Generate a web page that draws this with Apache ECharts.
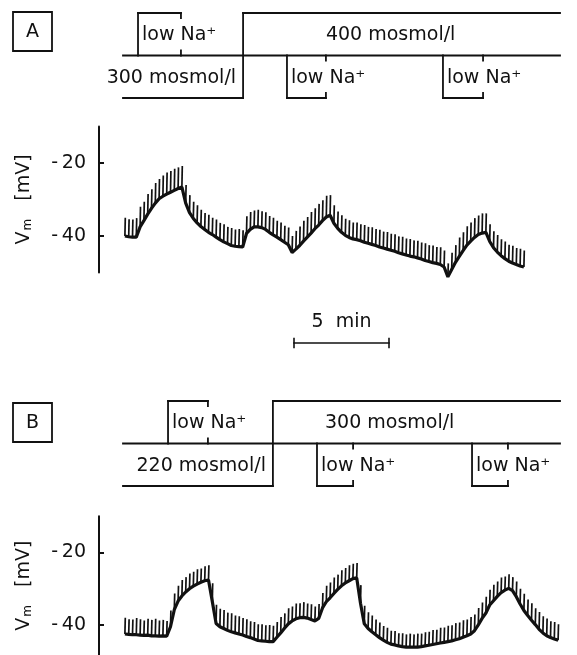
<!DOCTYPE html>
<html>
<head>
<meta charset="utf-8">
<script src="https://cdn.jsdelivr.net/npm/echarts@6/dist/echarts.min.js"></script>
<style>
  html, body { margin: 0; padding: 0; background: #fff; }
  #chart { width: 577px; height: 655px; }
</style>
</head>
<body>
<div id="chart"></div>
<script>
// Membrane potential under osmotic steps and low-Na+ pulses.
// Time in minutes from the start of each recording; test pulses every 12 s.
const STIM_START = 0.1;
const STIM_STEP = 0.2;
const T_END = 23;

// Panel A: resting level and pulse tip of V_m (mV) at each test pulse
const baseA = [
  -40.0, -40.2, -40.3, -40.3, -37.5, -35.8, -34.0, -32.4, -31.0, -29.8,
  -29.1, -28.5, -28.0, -27.5, -27.0, -26.6, -31.0, -33.6, -35.2, -36.4,
  -37.4, -38.2, -39.0, -39.6, -40.3, -41.0, -41.6, -42.1, -42.6, -42.8,
  -42.9, -43.0, -39.3, -38.2, -37.5, -37.5, -37.7, -38.2, -39.0, -39.7,
  -40.3, -41.0, -41.7, -42.4, -44.5, -43.6, -42.6, -41.4, -40.3, -39.2,
  -38.0, -37.0, -35.8, -34.8, -34.3, -36.5, -37.9, -39.0, -39.8, -40.4,
  -40.8, -41.0, -41.3, -41.7, -42.0, -42.3, -42.6, -43.0, -43.3, -43.6,
  -43.9, -44.2, -44.6, -44.9, -45.2, -45.5, -45.7, -46.0, -46.3, -46.7,
  -47.0, -47.3, -47.5, -47.8, -48.5, -51.2, -49.2, -47.2, -45.6, -44.0,
  -42.5, -41.4, -40.4, -39.6, -39.2, -39.0, -41.5, -43.2, -44.4, -45.4,
  -46.2, -46.9, -47.4, -47.8, -48.2, -48.5
];
const peakA = [
  -35.0, -35.4, -35.5, -35.1, -32.0, -30.6, -28.5, -27.2, -25.5, -24.4,
  -23.4, -22.6, -22.2, -21.6, -21.2, -20.8, -26.0, -28.8, -30.6, -31.6,
  -32.8, -33.7, -34.2, -35.0, -35.5, -36.4, -36.8, -37.5, -37.8, -38.2,
  -38.1, -38.4, -34.6, -33.4, -33.0, -32.8, -33.2, -33.5, -34.5, -35.0,
  -35.8, -36.3, -37.2, -37.7, -40.0, -38.6, -37.4, -35.8, -34.8, -33.4,
  -32.4, -31.2, -30.2, -29.0, -28.8, -31.6, -33.3, -34.3, -35.3, -35.7,
  -36.3, -36.3, -36.8, -37.0, -37.5, -37.6, -38.1, -38.3, -38.8, -38.9,
  -39.4, -39.5, -40.1, -40.2, -40.7, -40.8, -41.2, -41.3, -41.8, -42.0,
  -42.5, -42.6, -43.0, -43.1, -44.0, -47.5, -44.6, -42.5, -40.4, -39.0,
  -37.3, -36.3, -35.1, -34.4, -33.8, -33.8, -36.8, -38.7, -39.7, -40.9,
  -41.5, -42.4, -42.7, -43.3, -43.5, -44.0
];

// Panel B: resting level and pulse tip of V_m (mV) at each test pulse
const baseB = [
  -42.5, -42.6, -42.7, -42.7, -42.8, -42.9, -42.8, -43.0, -43.0, -43.1,
  -43.0, -43.1, -40.5, -35.8, -33.4, -32.0, -30.9, -30.0, -29.3, -28.7,
  -28.2, -27.8, -27.6, -33.5, -39.6, -40.5, -41.0, -41.5, -41.9, -42.2,
  -42.5, -42.8, -43.2, -43.5, -43.9, -44.3, -44.4, -44.5, -44.6, -44.6,
  -43.4, -42.2, -40.9, -39.7, -38.9, -38.3, -38.0, -37.9, -38.1, -38.5,
  -38.9, -38.2, -35.3, -33.6, -32.5, -31.3, -30.2, -29.2, -28.4, -27.8,
  -27.2, -27.0, -34.0, -39.7, -41.0, -41.9, -42.7, -43.5, -44.2, -44.8,
  -45.3, -45.5, -45.8, -46.0, -46.1, -46.1, -46.1, -46.1, -46.0, -45.8,
  -45.6, -45.4, -45.2, -45.0, -44.8, -44.6, -44.4, -44.1, -43.8, -43.4,
  -43.0, -42.5, -41.6, -40.0, -38.2, -36.7, -34.5, -33.3, -32.1, -31.1,
  -30.4, -29.9, -30.5, -32.2, -34.2, -36.0, -37.4, -38.7, -39.9, -41.2,
  -42.2, -43.0, -43.5, -43.9, -44.2
];
const peakB = [
  -38.0, -38.4, -38.5, -38.1, -38.4, -38.8, -38.3, -38.6, -38.3, -38.8,
  -38.6, -38.9, -36.0, -31.3, -29.2, -27.6, -26.8, -25.8, -25.3, -24.6,
  -24.4, -23.8, -23.5, -28.5, -34.4, -35.5, -35.9, -36.6, -36.8, -37.4,
  -37.6, -38.1, -38.4, -39.0, -39.2, -39.8, -39.8, -40.1, -40.0, -40.2,
  -39.2, -37.8, -36.8, -35.4, -34.9, -34.1, -34.0, -33.7, -34.1, -34.3,
  -34.9, -34.2, -31.2, -29.2, -28.3, -26.9, -26.1, -24.9, -24.3, -23.5,
  -23.1, -22.9, -29.0, -34.7, -36.5, -37.4, -38.5, -39.3, -40.3, -40.8,
  -41.6, -41.7, -42.3, -42.3, -42.6, -42.4, -42.6, -42.4, -42.4, -42.0,
  -41.9, -41.4, -41.3, -40.8, -40.7, -40.2, -40.1, -39.5, -39.3, -38.7,
  -38.5, -37.8, -37.1, -35.3, -33.8, -32.2, -30.3, -28.9, -28.0, -26.9,
  -26.6, -26.0, -26.8, -28.0, -30.0, -31.4, -33.0, -34.0, -35.4, -36.4,
  -37.6, -38.2, -39.0, -39.2, -39.8
];

// Solution protocol (minutes): osmolarity step and low-Na+ pulses
const osmoSwitchA = 6.32;
const osmoSwitchB = 7.89;
const lowNaA = [[0.79, 3.05, 'up'], [8.63, 10.68, 'down'], [16.84, 18.95, 'down']];
const lowNaB = [[2.37, 4.47, 'up'], [10.21, 12.11, 'down'], [18.37, 20.26, 'down']];
const osmoTextA = ['300 mosmol/l', '400 mosmol/l'];
const osmoTextB = ['220 mosmol/l', '300 mosmol/l'];
const lowNaText = 'low Na\u207A';

// Time calibration bar (minutes) and voltage ticks (mV)
const scaleBar = [9, 14];
const scaleBarText = '5  min';
const vTicks = [-40, -20];
const vRangeA = [-50, -10];
const vRangeB = [-48.3, -10];   // lower part of panel B runs off the page

const INK = '#111';
const FONT = 'DejaVu Sans';
const FS = 19;
const PLOT_LEFT = 123;
const PLOT_WIDTH = 437;
const TICK = 0.12; // end-of-pulse mark length, in protocol level units

function protocolSegments(sw, pulses) {
  const segs = [
    [0, 1, T_END, 1],
    [0, 0, sw, 0],
    [sw, 0, sw, 2],
    [sw, 2, T_END, 2]
  ];
  pulses.forEach(([a, b, dir]) => {
    const lv = dir === 'up' ? 2 : 0;
    const d = dir === 'up' ? -TICK : TICK;
    segs.push([a, 1, a, lv]);
    segs.push([a, lv, b, lv]);
    segs.push([b, lv, b, lv + d]);
    segs.push([b, 1, b, 1 - d]);
  });
  return segs;
}

function segmentSeries(idx, segs, width) {
  return {
    type: 'custom',
    xAxisIndex: idx, yAxisIndex: idx,
    clip: false,
    silent: true,
    encode: { x: [0, 2], y: [1, 3] },
    data: segs,
    renderItem(params, api) {
      const p0 = api.coord([api.value(0), api.value(1)]);
      const p1 = api.coord([api.value(2), api.value(3)]);
      return {
        type: 'line',
        shape: { x1: p0[0], y1: p0[1], x2: p1[0], y2: p1[1] },
        style: { stroke: INK, lineWidth: width, lineCap: 'square' }
      };
    }
  };
}

function textStyle(extra) {
  return Object.assign({ show: true, color: INK, fontFamily: FONT, fontSize: FS }, extra);
}

function protocolLabels(idx, sw, pulses, osmo, newOsmoStart) {
  const data = [];
  data.push({ value: [sw, 0.5], label: textStyle({ formatter: osmo[0], position: 'left', distance: 7, offset: [0, 1] }) });
  data.push({ value: [newOsmoStart, 1.5], label: textStyle({ formatter: osmo[1], position: 'right', distance: 0, offset: [0, 1] }) });
  pulses.forEach(([a, b, dir]) => {
    data.push({
      value: [a, dir === 'up' ? 1.5 : 0.5],
      label: textStyle({ formatter: lowNaText, position: 'right', distance: 4, offset: [0, 1] })
    });
  });
  return {
    type: 'scatter', xAxisIndex: idx, yAxisIndex: idx,
    symbolSize: 0, silent: true,
    itemStyle: { opacity: 1 },
    data
  };
}

function traceSeries(idx, base, peak) {
  const spikes = base.map((b, i) => [STIM_START + STIM_STEP * i, b, peak[i]]);
  return [
    {
      type: 'custom',
      xAxisIndex: idx, yAxisIndex: idx,
      clip: false, silent: true,
      encode: { x: 0, y: [1, 2] },
      data: spikes,
      renderItem(params, api) {
        const p0 = api.coord([api.value(0), api.value(1)]);
        const p1 = api.coord([api.value(0), api.value(2)]);
        return {
          type: 'line',
          shape: { x1: p0[0], y1: p0[1], x2: p1[0] + 0.4, y2: p1[1] },
          style: { stroke: INK, lineWidth: 1.7 }
        };
      }
    },
    {
      type: 'line',
      xAxisIndex: idx, yAxisIndex: idx,
      clip: false, silent: true,
      symbol: 'none',
      lineStyle: { color: INK, width: 3.2 },
      data: spikes.map(s => [s[0], s[1]])
    }
  ];
}

function voltageAxis(gridIdx, range) {
  return {
    gridIndex: gridIdx,
    type: 'value',
    min: range[0], max: range[1],
    offset: 24,
    axisLine: { show: true, onZero: false, lineStyle: { color: INK, width: 2 } },
    axisTick: { show: true, inside: true, length: 5, customValues: vTicks, lineStyle: { color: INK, width: 2 } },
    axisLabel: {
      show: true, customValues: vTicks, margin: 13,
      color: INK, fontFamily: FONT, fontSize: FS,
      formatter: v => '-\u2009' + Math.abs(v)
    },
    splitLine: { show: false },
    name: '{v|V}{s|m}{v|   [mV]}',
    nameLocation: 'middle',
    nameRotate: 90,
    nameGap: 65,
    nameTextStyle: {
      rich: {
        v: { fontFamily: FONT, fontSize: FS, color: INK, lineHeight: 19, verticalAlign: 'top' },
        s: { fontFamily: FONT, fontSize: 12, color: INK, lineHeight: 12, verticalAlign: 'bottom', padding: [12, 0, 0, 1] }
      }
    }
  };
}

const grids = [
  { left: PLOT_LEFT, width: PLOT_WIDTH, top: 13, height: 85 },      // protocol A
  { left: PLOT_LEFT, width: PLOT_WIDTH, top: 126.5, height: 146 },  // trace A
  { left: PLOT_LEFT, width: PLOT_WIDTH, top: 339, height: 8 },      // time bar
  { left: PLOT_LEFT, width: PLOT_WIDTH, top: 401, height: 85 },     // protocol B
  { left: PLOT_LEFT, width: PLOT_WIDTH, top: 516.3, height: 138.7 } // trace B
];
const xAxes = grids.map((g, i) => ({ gridIndex: i, type: 'value', min: 0, max: T_END, show: false }));
const yAxes = [
  { gridIndex: 0, type: 'value', min: 0, max: 2, show: false },
  voltageAxis(1, vRangeA),
  { gridIndex: 2, type: 'value', min: -1, max: 1, show: false },
  { gridIndex: 3, type: 'value', min: 0, max: 2, show: false },
  voltageAxis(4, vRangeB)
];

const barSegs = [
  [scaleBar[0], 0, scaleBar[1], 0],
  [scaleBar[0], -1.1, scaleBar[0], 1.1],
  [scaleBar[1], -1.1, scaleBar[1], 1.1]
];

const series = [
  segmentSeries(0, protocolSegments(osmoSwitchA, lowNaA), 1.8),
  protocolLabels(0, osmoSwitchA, lowNaA, osmoTextA, 10.68),
  ...traceSeries(1, baseA, peakA),
  segmentSeries(2, barSegs, 1.6),
  {
    type: 'scatter', xAxisIndex: 2, yAxisIndex: 2, symbolSize: 0, silent: true,
    itemStyle: { opacity: 1 },
    data: [{ value: [(scaleBar[0] + scaleBar[1]) / 2, 0],
             label: textStyle({ formatter: scaleBarText, position: 'top', distance: 11 }) }]
  },
  segmentSeries(3, protocolSegments(osmoSwitchB, lowNaB), 1.8),
  protocolLabels(3, osmoSwitchB, lowNaB, osmoTextB, 10.63),
  ...traceSeries(4, baseB, peakB)
];

function panelTag(letter, x, y) {
  return [
    { type: 'rect', shape: { x, y, width: 39, height: 39 },
      style: { fill: 'none', stroke: INK, lineWidth: 1.8 } },
    { type: 'text', x: x + 19.5, y: y + 20,
      style: { text: letter, fill: INK, font: FS + 'px "' + FONT + '"',
               textAlign: 'center', textVerticalAlign: 'middle', align: 'center', verticalAlign: 'middle' } }
  ];
}

const chart = echarts.init(document.getElementById('chart'), null, { renderer: 'canvas' });
chart.setOption({
  backgroundColor: '#fff',
  animation: false,
  grid: grids,
  xAxis: xAxes,
  yAxis: yAxes,
  series,
  graphic: [...panelTag('A', 13, 12), ...panelTag('B', 13, 403)]
});
</script>
</body>
</html>
